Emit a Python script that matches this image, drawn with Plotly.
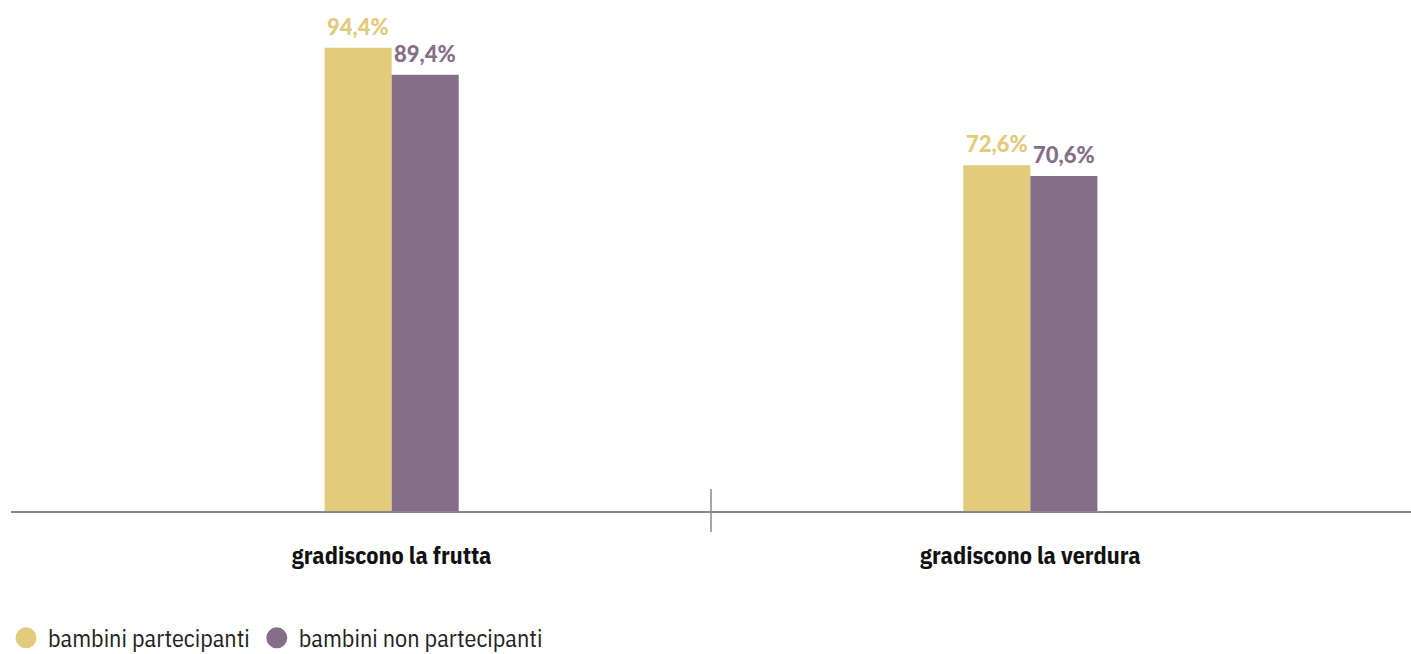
import plotly.graph_objects as go

categories = ["gradiscono la frutta", "gradiscono la verdura"]
series_names = ["bambini partecipanti", "bambini non partecipanti"]
partecipanti = [94.4, 72.6]
non_partecipanti = [89.4, 70.6]
colors = ["#E2CB7D", "#856F88"]

cond_font = "IBM Plex Sans Condensed, Liberation Sans Narrow, DejaVu Sans Condensed, Roboto Condensed, Roboto, sans-serif"
bargap = 0.79
bar_w = (1 - bargap) / 2

fig = go.Figure()
series = [partecipanti, non_partecipanti]
for si, (name, vals, col) in enumerate(zip(series_names, series, colors)):
    fig.add_trace(go.Bar(
        x=categories, y=vals, name=name, marker=dict(color=col, line=dict(width=0)),
        cliponaxis=False, showlegend=False,
    ))
    fig.add_trace(go.Scatter(
        x=[None], y=[None], mode="markers", name=name,
        marker=dict(symbol="circle", size=16, color=col, line=dict(color=col, width=5)),
        showlegend=True,
    ))
    offset = (si - 0.5) * bar_w
    for ci, v in enumerate(vals):
        fig.add_annotation(
            x=ci + offset, y=v, xref="x", yref="y", text=f"{v:.1f}%".replace(".", ","),
            showarrow=False, xanchor="center", yanchor="bottom", yshift=6,
            font=dict(family="Lato", size=22, color=col, weight=900),
        )

fig.add_shape(type="line", xref="x", yref="paper", x0=0.5, x1=0.5, y0=-0.041, y1=0.043,
              line=dict(color="#888888", width=1.5))

fig.update_layout(
    width=1411, height=654,
    margin=dict(l=11, r=0, t=0, b=143, autoexpand=False),
    paper_bgcolor="white", plot_bgcolor="white",
    barmode="group", bargap=bargap, bargroupgap=0,
    separators=",.",
    xaxis=dict(range=[-0.596, 1.596], showgrid=False, zeroline=False,
               showline=True, linecolor="#888888", linewidth=1.5,
               ticks="", ticklabelstandoff=22,
               tickfont=dict(family=cond_font, size=24, color="#111111", weight="bold")),
    yaxis=dict(range=[8.3, 103.3], visible=False),
    legend=dict(orientation="h", x=-0.005, xanchor="left", y=-0.249, yanchor="middle",
                font=dict(family=cond_font, size=24, color="#222222"),
                itemsizing="trace", itemwidth=34, tracegroupgap=0),
)

fig.write_html("out.html", config={"displayModeBar": False},
               post_script="document.body.style.margin='0';document.body.style.overflow='hidden';")
